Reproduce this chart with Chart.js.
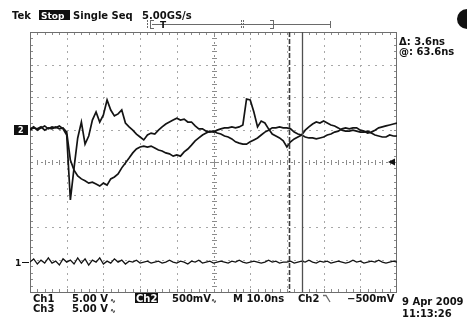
<!DOCTYPE html>
<html>
<head>
<meta charset="utf-8">
<script src="https://cdn.jsdelivr.net/npm/chart.js@4.4.0/dist/chart.umd.min.js"></script>
<style>
  html, body { margin: 0; padding: 0; background: #fff; }
  #scope { display: block; }
</style>
</head>
<body>
<canvas id="scope" width="467" height="322"></canvas>
<script>
// Data ===========================================
// time across the screen, 10.0 ns/div, 10 divisions
const timeNs = [
  0, 1, 2, 3, 4, 5, 6, 7, 8, 9,
  10, 11, 12, 13, 14, 15, 16, 17, 18, 19,
  20, 21, 22, 23, 24, 25, 26, 27, 28, 29,
  30, 31, 32, 33, 34, 35, 36, 37, 38, 39,
  40, 41, 42, 43, 44, 45, 46, 47, 48, 49,
  50, 51, 52, 53, 54, 55, 56, 57, 58, 59,
  60, 61, 62, 63, 64, 65, 66, 67, 68, 69,
  70, 71, 72, 73, 74, 75, 76, 77, 78, 79,
  80, 81, 82, 83, 84, 85, 86, 87, 88, 89,
  90, 91, 92, 93, 94, 95, 96, 97, 98, 99,
  100
];

// trace levels in screen divisions (0 = centre line, -4..4)
const ch2Div = [
  1.02, 1.08, 0.98, 1.05, 1.11, 1.02, 1.08, 1.05, 1.11, 1.02,
  0.83, -1.17, -0.18, 0.74, 1.23, 0.55, 0.80, 1.29, 1.54, 1.23,
  1.45, 1.91, 1.60, 1.42, 1.48, 1.60, 1.20, 1.08, 0.98, 0.86,
  0.77, 0.68, 0.83, 0.89, 0.86, 0.98, 1.08, 1.17, 1.23, 1.29,
  1.35, 1.29, 1.32, 1.23, 1.23, 1.11, 1.02, 1.02, 0.95, 0.92,
  0.95, 0.89, 0.86, 0.80, 0.77, 0.71, 0.62, 0.58, 0.55, 0.55,
  0.62, 0.68, 0.74, 0.83, 0.92, 0.98, 1.05, 1.05, 1.08, 1.05,
  1.05, 1.02, 0.92, 0.86, 0.83, 0.77, 0.74, 0.74, 0.71, 0.74,
  0.77, 0.83, 0.86, 0.92, 0.95, 1.02, 1.05, 1.02, 1.05, 1.05,
  0.98, 0.95, 0.89, 0.92, 0.98, 1.05, 1.08, 1.11, 1.14, 1.17,
  1.20
];

const ch3Div = [
  0.98, 1.05, 1.02, 1.08, 0.98, 1.05, 1.02, 1.08, 1.02, 1.05,
  0.92, 0.06, -0.25, -0.43, -0.52, -0.58, -0.65, -0.62, -0.68, -0.74,
  -0.65, -0.71, -0.52, -0.46, -0.37, -0.18, -0.03, 0.12, 0.28, 0.40,
  0.46, 0.49, 0.46, 0.49, 0.43, 0.37, 0.34, 0.28, 0.25, 0.18,
  0.22, 0.18, 0.31, 0.40, 0.52, 0.65, 0.74, 0.83, 0.89, 0.95,
  0.92, 0.98, 1.02, 1.05, 1.05, 1.08, 1.05, 1.08, 1.14, 1.94,
  1.91, 1.54, 1.08, 1.26, 1.20, 1.02, 0.86, 0.80, 0.74, 0.65,
  0.46, 0.62, 0.71, 0.77, 0.83, 0.98, 1.08, 1.17, 1.23, 1.20,
  1.26, 1.20, 1.14, 1.11, 1.05, 0.98, 0.95, 0.95, 0.98, 0.95,
  0.92, 0.92, 0.95, 0.89, 0.83, 0.80, 0.77, 0.77, 0.83, 0.80,
  0.80
];

const ch1Div = [
  -3.08, -2.98, -3.14, -3.02, -3.11, -2.95, -3.11, -3.05, -3.17, -2.98,
  -3.08, -3.02, -3.14, -2.95, -3.11, -2.98, -3.17, -3.02, -3.08, -2.95,
  -3.14, -3.05, -3.11, -2.98, -3.08, -3.02, -3.14, -3.05, -3.08, -3.02,
  -3.11, -3.08, -3.05, -3.11, -3.08, -3.05, -3.11, -3.08, -3.02, -3.08,
  -3.11, -3.05, -3.08, -3.14, -3.05, -3.08, -3.02, -3.11, -3.08, -3.05,
  -3.11, -3.08, -3.05, -3.08, -3.11, -3.05, -3.08, -3.02, -3.08, -3.11,
  -3.08, -3.05, -3.08, -3.11, -3.08, -3.02, -3.08, -3.05, -3.11, -3.08,
  -3.08, -3.05, -3.11, -3.08, -3.05, -3.08, -3.02, -3.08, -3.11, -3.05,
  -3.08, -3.05, -3.11, -3.08, -3.05, -3.08, -3.11, -3.08, -3.02, -3.08,
  -3.05, -3.11, -3.08, -3.05, -3.08, -3.02, -3.08, -3.11, -3.08, -3.05,
  -3.08
];

// cursors (ns) and channel markers (div)
const cursorNs = [70.5, 74.1];
const ch2GroundDiv = 1.0;
const ch1GroundDiv = -3.08;
const trigLevelDiv = 0;

// readouts
const headerLabels = ["Tek", "Stop", "Single Seq", "5.00GS/s"];
const cursorLabels = ["\u0394: 3.6ns", "@: 63.6ns"];
const scaleLabels = ["Ch1", "5.00 V", "Ch2", "500mV", "M 10.0ns", "Ch2", "\u2212500mV", "Ch3", "5.00 V"];
const dateLabels = ["9 Apr 2009", "11:13:26"];

const FONT = 'bold 10px "DejaVu Sans"';

// Graticule ======================================
const graticule = {
  id: "graticule",
  beforeDatasetsDraw(chart) {
    const { ctx, chartArea: a, scales: { x, y } } = chart;
    ctx.save();
    ctx.fillStyle = "#a8a8a8";
    // dotted division lines
    for (let d = 10; d < 100; d += 10) {
      if (d === 50) continue;
      const px = Math.round(x.getPixelForValue(d));
      for (let k = 1; k < 40; k++) {
        ctx.fillRect(px, Math.round(y.getPixelForValue(-4 + k * 0.2)), 1, 2);
      }
    }
    for (let d = -3; d <= 3; d++) {
      if (d === 0) continue;
      const py = Math.round(y.getPixelForValue(d));
      for (let k = 1; k < 50; k++) {
        ctx.fillRect(Math.round(x.getPixelForValue(k * 2)), py, 2, 1);
      }
    }
    // centre axes with minor ticks
    ctx.fillStyle = "#8c8c8c";
    const cx = Math.round(x.getPixelForValue(50));
    const cy = Math.round(y.getPixelForValue(0));
    for (let k = 1; k < 50; k++) {
      const px = Math.round(x.getPixelForValue(k * 2));
      ctx.fillRect(px, cy - 2, 1, 5);
      ctx.fillRect(Math.round(x.getPixelForValue(k * 2 + 1)), cy, 2, 1);
    }
    for (let k = 1; k < 40; k++) {
      const py = Math.round(y.getPixelForValue(-4 + k * 0.2));
      ctx.fillRect(cx - 2, py, 5, 1);
      ctx.fillRect(cx, Math.round(y.getPixelForValue(-3.9 + k * 0.2)), 1, 2);
    }
    // border ticks
    for (let k = 1; k < 50; k++) {
      const px = Math.round(x.getPixelForValue(k * 2));
      ctx.fillRect(px, a.top, 1, 3);
      ctx.fillRect(px, a.bottom - 3, 1, 3);
    }
    for (let k = 1; k < 40; k++) {
      const py = Math.round(y.getPixelForValue(-4 + k * 0.2));
      ctx.fillRect(a.left, py, 3, 1);
      ctx.fillRect(a.right - 3, py, 3, 1);
    }
    ctx.strokeStyle = "#6e6e6e";
    ctx.lineWidth = 1;
    ctx.strokeRect(a.left + 0.5, a.top + 0.5, a.width - 1, a.height);
    ctx.restore();
  },
  afterDatasetsDraw(chart) {
    const { ctx, chartArea: a, scales: { x, y } } = chart;
    ctx.save();
    // cursors
    const c1 = Math.round(x.getPixelForValue(cursorNs[0])) + 0.5;
    const c2 = Math.round(x.getPixelForValue(cursorNs[1])) + 0.5;
    ctx.strokeStyle = "#3a3a3a";
    ctx.lineWidth = 1.6;
    ctx.setLineDash([5, 2]);
    ctx.beginPath();
    ctx.moveTo(c1, a.top);
    ctx.lineTo(c1, a.bottom);
    ctx.stroke();
    ctx.setLineDash([]);
    ctx.strokeStyle = "#505050";
    ctx.lineWidth = 1.3;
    ctx.beginPath();
    ctx.moveTo(c2, a.top);
    ctx.lineTo(c2, a.bottom);
    ctx.stroke();

    // channel ground markers
    const g2 = y.getPixelForValue(ch2GroundDiv);
    ctx.fillStyle = "#111";
    ctx.fillRect(14, Math.round(g2) - 5, 14, 10);
    ctx.fillStyle = "#fff";
    ctx.font = 'bold 8px "DejaVu Sans"';
    ctx.fillText("2", 18, Math.round(g2) + 3);
    const g1 = Math.round(y.getPixelForValue(ch1GroundDiv));
    ctx.fillStyle = "#111";
    ctx.font = 'bold 9px "DejaVu Sans"';
    ctx.fillText("1", 15, g1 + 4);
    ctx.fillRect(22, g1, 7, 1);

    // trigger level marker
    const tl = y.getPixelForValue(trigLevelDiv);
    ctx.beginPath();
    ctx.moveTo(a.right - 9, tl);
    ctx.lineTo(a.right - 2, tl - 3.5);
    ctx.lineTo(a.right - 2, tl + 3.5);
    ctx.closePath();
    ctx.fill();
    ctx.restore();
  }
};

// Readouts =======================================
const readouts = {
  id: "readouts",
  afterDraw(chart) {
    const { ctx } = chart;
    ctx.save();
    ctx.font = FONT;
    ctx.fillStyle = "#111";
    // header
    ctx.fillText(headerLabels[0], 12, 19);
    ctx.fillRect(39, 10, 31, 10);
    ctx.fillStyle = "#fff";
    ctx.font = 'bold 9px "DejaVu Sans"';
    ctx.fillText(headerLabels[1], 41, 18.5);
    ctx.fillStyle = "#111";
    ctx.font = FONT;
    ctx.fillText(headerLabels[2], 73, 19);
    ctx.fillText(headerLabels[3], 142, 19);

    // record bar
    ctx.strokeStyle = "#6a6a6a";
    ctx.lineWidth = 1;
    ctx.beginPath();
    ctx.moveTo(152, 24.5); ctx.lineTo(330, 24.5);
    ctx.moveTo(150.5, 20); ctx.lineTo(150.5, 29);
    ctx.moveTo(150, 20.5); ctx.lineTo(154, 20.5);
    ctx.moveTo(150, 28.5); ctx.lineTo(154, 28.5);
    ctx.moveTo(273.5, 20); ctx.lineTo(273.5, 29);
    ctx.moveTo(270, 20.5); ctx.lineTo(274, 20.5);
    ctx.moveTo(270, 28.5); ctx.lineTo(274, 28.5);
    ctx.moveTo(330.5, 21); ctx.lineTo(330.5, 28);
    ctx.stroke();
    ctx.setLineDash([2, 1]);
    ctx.beginPath();
    ctx.moveTo(147.5, 20); ctx.lineTo(147.5, 29);
    ctx.moveTo(241.5, 20); ctx.lineTo(241.5, 29);
    ctx.moveTo(243.5, 20); ctx.lineTo(243.5, 29);
    ctx.stroke();
    ctx.setLineDash([]);
    ctx.font = 'bold 9px "DejaVu Sans"';
    ctx.fillText("T", 160, 28);

    // circle in corner
    ctx.beginPath();
    ctx.arc(467, 19, 10, 0, Math.PI * 2);
    ctx.fill();

    // cursor readout
    ctx.font = 'bold 10px "DejaVu Sans"';
    ctx.fillText(cursorLabels[0], 399, 45);
    ctx.fillText(cursorLabels[1], 399, 55);

    // scale readouts
    ctx.font = FONT;
    ctx.fillText(scaleLabels[0], 33, 302);
    ctx.fillText(scaleLabels[1], 72, 302);
    ctx.fillRect(135, 293, 23, 10);
    ctx.fillStyle = "#fff";
    ctx.fillText(scaleLabels[2], 136, 302);
    ctx.fillStyle = "#111";
    ctx.fillText(scaleLabels[3], 172, 302);
    ctx.fillText(scaleLabels[4], 233, 302);
    ctx.fillText(scaleLabels[5], 298, 302);
    ctx.fillText(scaleLabels[6], 347, 302);
    ctx.fillText(scaleLabels[7], 33, 312);
    ctx.fillText(scaleLabels[8], 72, 312);
    ctx.font = 'bold 7px "DejaVu Sans"';
    ctx.fillText("\u223F", 110, 303);
    ctx.fillText("\u223F", 110, 313);
    ctx.fillText("\u223F", 211, 303);
    // falling slope symbol
    ctx.lineWidth = 1.3;
    ctx.beginPath();
    ctx.moveTo(323, 295.5);
    ctx.lineTo(326, 295.5);
    ctx.lineTo(330, 302);
    ctx.stroke();

    ctx.font = FONT;
    ctx.fillText(dateLabels[0], 402, 305);
    ctx.fillText(dateLabels[1], 402, 317);
    ctx.restore();
  }
};

// Chart ==========================================
const toPoints = (vals) => vals.map((v, i) => ({ x: timeNs[i], y: v }));

const traceStyle = {
  borderColor: "#141414",
  borderWidth: 1.7,
  pointRadius: 0,
  tension: 0,
  fill: false
};

new Chart(document.getElementById("scope"), {
  type: "line",
  data: {
    datasets: [
      { label: "Ch1", data: toPoints(ch1Div), ...traceStyle, borderWidth: 1.3 },
      { label: "Ch2", data: toPoints(ch2Div), ...traceStyle },
      { label: "Ch3", data: toPoints(ch3Div), ...traceStyle }
    ]
  },
  options: {
    responsive: false,
    animation: false,
    layout: { padding: { left: 30, top: 32, right: 70, bottom: 30 } },
    scales: {
      x: { type: "linear", min: 0, max: 100, display: false },
      y: { type: "linear", min: -4, max: 4, display: false }
    },
    plugins: {
      legend: { display: false },
      tooltip: { enabled: false }
    }
  },
  plugins: [graticule, readouts]
});
</script>
</body>
</html>
